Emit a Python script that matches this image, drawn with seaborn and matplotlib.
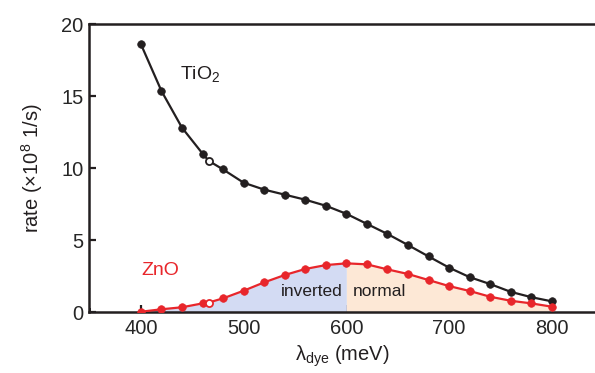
import numpy as np
import pandas as pd
import matplotlib.pyplot as plt
import seaborn as sns
from matplotlib.ticker import MultipleLocator

# datos (lambda en meV, tasa en 1e8 1/s)
lam = [400, 420, 440, 460, 466, 480, 500, 520, 540, 560, 580, 600,
       620, 640, 660, 680, 700, 720, 740, 760, 780, 800]
tasa_tio2 = [18.6, 15.35, 12.8, 11.0, 10.5, 9.9, 8.98, 8.5, 8.15, 7.8, 7.38, 6.82,
             6.12, 5.42, 4.65, 3.86, 3.08, 2.42, 1.94, 1.4, 1.03, 0.74]
tasa_zno = [0.02, 0.19, 0.33, 0.6, 0.66, 0.95, 1.48, 2.06, 2.57, 2.99, 3.26, 3.38,
            3.31, 2.96, 2.64, 2.22, 1.8, 1.46, 1.06, 0.78, 0.6, 0.37]
abierto = [False, False, False, False, True] + [False] * 17

sns.set_style("ticks")
plt.rcParams['font.family'] = ['Liberation Sans', 'DejaVu Sans']
plt.rcParams['mathtext.fontset'] = 'custom'
plt.rcParams['mathtext.rm'] = 'Liberation Sans'
plt.rcParams['mathtext.default'] = 'regular'

df = pd.DataFrame({"lam": lam, "tio2": tasa_tio2, "zno": tasa_zno, "abierto": abierto})

negro = '#231f20'
rojo = '#e8262b'

fig = plt.figure(figsize=(5.95, 3.73), dpi=100)
ax = fig.add_axes([0.15, 0.1635, 0.85, 0.772])

# sombreado bajo la curva de ZnO
x = np.array(lam)
y = np.array(tasa_zno)
ax.fill_between(x, 0, y, where=x <= 600, color='#d3dbf3', lw=0, zorder=1)
ax.fill_between(x, 0, y, where=x >= 600, color='#fde8d6', lw=0, zorder=1)

for col, color in [("tio2", negro), ("zno", rojo)]:
    sns.lineplot(data=df, x="lam", y=col, color=color, lw=1.6, ax=ax, zorder=3)
    sns.scatterplot(data=df[~df.abierto], x="lam", y=col, color=color, s=30,
                    edgecolor=color, linewidth=0.5, ax=ax, zorder=4)
    sns.scatterplot(data=df[df.abierto], x="lam", y=col, color='white', s=26,
                    edgecolor=color, linewidth=1.3, ax=ax, zorder=5)

ax.text(438, 16.5, "TiO$_2$", fontsize=14, color=negro, va='center')
ax.text(400, 2.9, "ZnO", fontsize=14, color=rojo, va='center')
ax.text(596, 1.4, "inverted", fontsize=12.5, color=negro, va='center', ha='right')
ax.text(606, 1.4, "normal", fontsize=12.5, color=negro, va='center', ha='left')

ax.set_xlim(349.7, 842)
ax.set_ylim(0, 20)
ax.xaxis.set_major_locator(MultipleLocator(100))
ax.xaxis.set_minor_locator(MultipleLocator(50))
ax.yaxis.set_major_locator(MultipleLocator(5))
ax.tick_params(direction='in', width=1.6, length=5, labelsize=14.5, pad=5, color=negro)
ax.tick_params(axis='y', pad=4)
ax.tick_params(which='minor', direction='in', width=1.4, length=3, color=negro)
ax.tick_params(axis='y', which='minor', left=False)
for lado in ['left', 'bottom', 'top']:
    ax.spines[lado].set_linewidth(1.8)
    ax.spines[lado].set_color(negro)
ax.spines['right'].set_visible(False)

ax.set_xlabel(r"$\lambda_{dye}$ (meV)", fontsize=14.5, color=negro, labelpad=4)
ax.set_ylabel("rate (×10$^8$ 1/s)", fontsize=14.5, color=negro, labelpad=12)

plt.savefig("out.png", dpi=100)
